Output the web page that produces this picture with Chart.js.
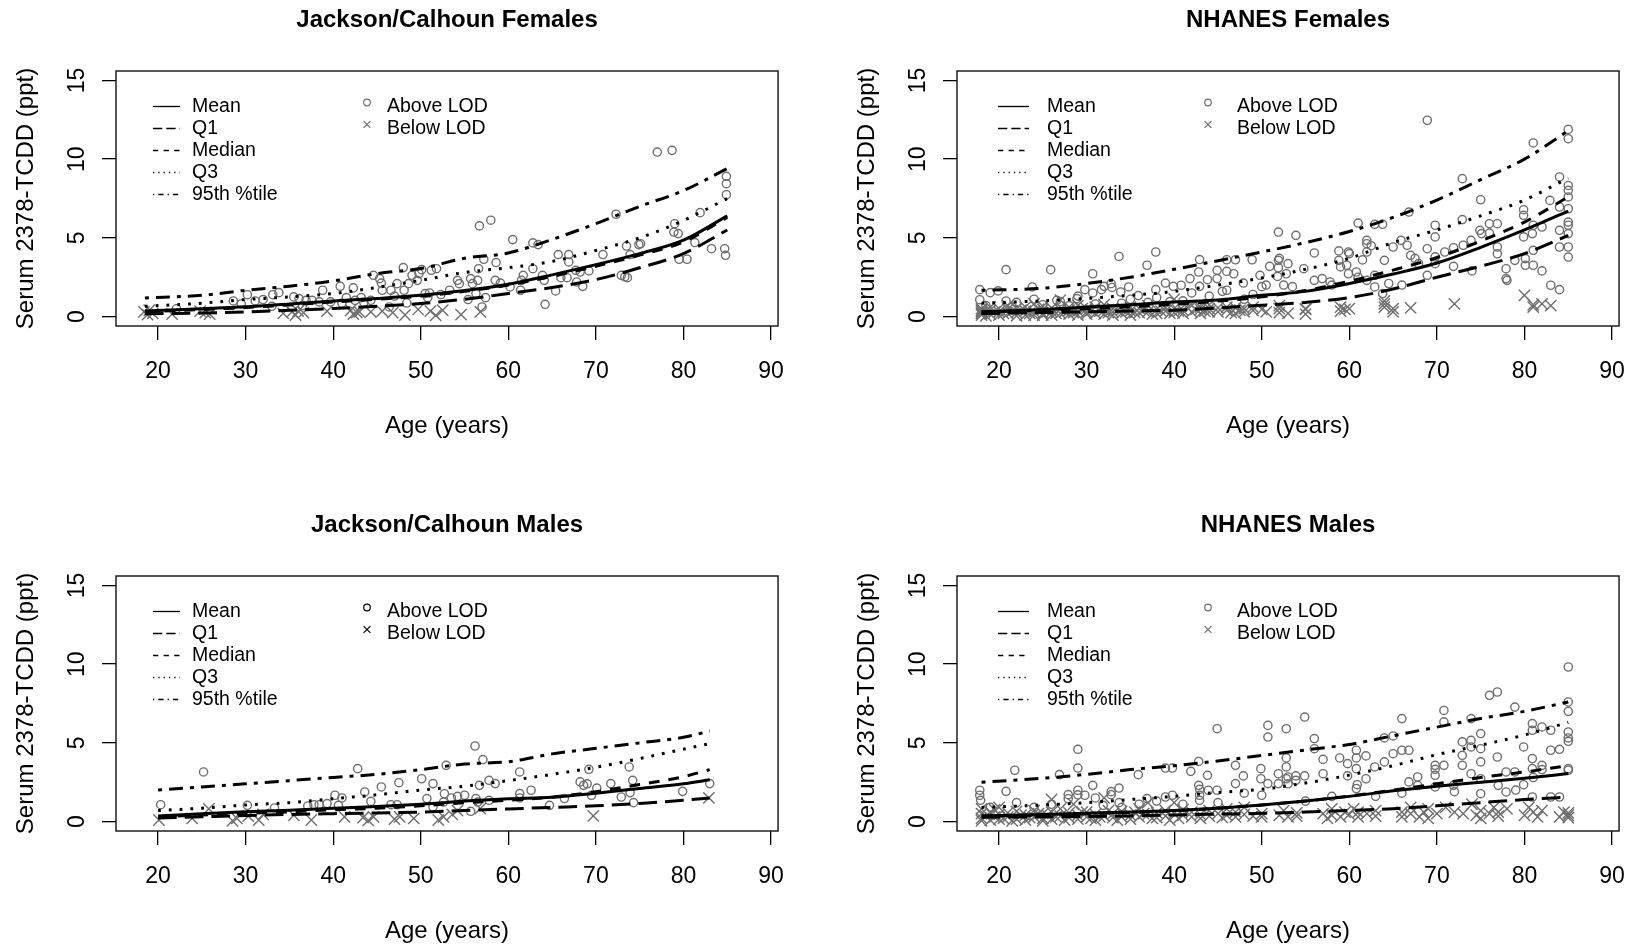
<!DOCTYPE html>
<html>
<head>
<meta charset="utf-8">
<script src="https://cdn.jsdelivr.net/npm/chart.js@4.4.1/dist/chart.umd.min.js"></script>
<style>
  html, body { margin: 0; padding: 0; background: #fff; width: 1644px; height: 947px; overflow: hidden; }
  .panel { position: absolute; width: 802px; height: 442px; }
</style>
</head>
<body>
<div class="panel" style="left:0;top:0"><canvas id="jcf" width="802" height="442"></canvas></div>
<div class="panel" style="left:841px;top:0"><canvas id="nhf" width="802" height="442"></canvas></div>
<div class="panel" style="left:0;top:505px"><canvas id="jcm" width="802" height="442"></canvas></div>
<div class="panel" style="left:841px;top:505px"><canvas id="nhm" width="802" height="442"></canvas></div>
<script>
// Shared axis ticks and labels
const xTicks = [20, 30, 40, 50, 60, 70, 80, 90];
const yTicks = [0, 5, 10, 15];
const curveNames = ['Mean', 'Q1', 'Median', 'Q3', '95th %tile'];
const markerNames = ['Above LOD', 'Below LOD'];

// Jackson/Calhoun Females
const jcfAges   = [18.5, 25, 30, 35, 40, 45, 50, 55, 60, 65, 70, 75, 80, 85];
const jcfMean   = [0.36, 0.5, 0.62, 0.8, 0.99, 1.15, 1.35, 1.65, 2.05, 2.65, 3.3, 4.0, 4.85, 6.4];
const jcfQ1     = [0.18, 0.22, 0.29, 0.4, 0.51, 0.65, 0.83, 1.1, 1.46, 1.85, 2.35, 3.1, 4.0, 5.5];
const jcfMedian = [0.3, 0.45, 0.57, 0.74, 0.93, 1.1, 1.3, 1.6, 2.0, 2.55, 3.2, 3.9, 4.75, 6.3];
const jcfQ3     = [0.65, 0.85, 1.08, 1.25, 1.46, 1.85, 2.3, 2.8, 3.1, 3.5, 4.2, 5.0, 6.1, 7.5];
const jcfP95    = [1.18, 1.35, 1.67, 1.93, 2.26, 2.73, 3.05, 3.7, 4.04, 4.9, 5.9, 7.0, 8.0, 9.4];
const jcfAbove = [
  [22.1,0.5],[28.6,0.99],[29.5,0.8],[30.2,1.39],[31.1,0.99],[32.0,1.08],[33.0,0.65],[33.1,1.39],[33.8,1.52],
  [35.5,1.25],[36.1,1.14],[36.5,0.7],[36.9,1.03],[37.6,1.03],[38.4,0.93],[38.8,1.67],[39.7,0.93],[40.8,1.92],
  [41.0,0.85],[41.5,1.2],[42.3,1.82],[42.5,1.03],[43.2,1.2],[43.5,0.9],[44.3,1.03],[44.6,2.62],[45.3,2.41],
  [45.5,2.13],[45.6,1.67],[46.4,0.61],[46.6,1.67],[47.0,1.3],[47.3,2.09],[48.0,3.11],[48.1,1.67],[48.4,0.86],
  [48.6,2.09],[49.0,2.62],[49.6,2.3],[49.8,2.73],[50.1,2.98],[50.5,1.46],[50.8,1.2],[51.0,1.5],[51.2,2.94],
  [51.8,3.04],[52.3,1.4],[53.3,1.67],[54.2,2.3],[54.4,2.09],[55.7,2.41],[55.9,2.09],[56.5,2.3],[56.3,1.46],
  [55.4,1.08],[57.4,1.2],[57.0,0.61],[58.5,2.3],[59.1,2.13],[56.7,5.76],[58.0,6.12],[57.2,3.64],[58.6,3.43],
  [56.6,3.04],[60.5,4.89],[62.8,4.68],[63.4,4.57],[61.5,2.3],[61.7,2.62],[61.4,1.67],[60.2,1.88],[62.8,3.04],
  [63.9,2.62],[64.1,2.3],[64.2,0.78],[65.4,1.63],[65.7,3.94],[66.9,3.94],[66.9,3.47],[66.0,2.47],[66.7,2.47],
  [67.7,2.94],[68.2,2.83],[69.2,2.9],[67.8,2.2],[68.5,1.92],[70.8,3.94],[72.3,6.5],[72.9,2.62],[73.3,2.52],
  [73.6,2.47],[73.5,4.48],[73.9,3.94],[74.9,4.57],[75.1,4.63],[77.0,10.45],[78.7,10.56],[79.0,5.9],[78.9,5.37],
  [79.4,5.27],[79.5,3.64],[80.4,3.64],[81.3,4.7],[81.9,6.6],[83.2,4.31],[84.7,4.31],[84.8,3.89],[84.9,8.91],
  [84.9,8.44],[84.9,7.74]
];
const jcfBelow = [
  [18.4,0.3],[18.8,0.12],[19.0,0.4],[19.4,0.2],[21.6,0.15],[24.8,0.35],[25.4,0.25],[25.9,0.15],[34.3,0.2],
  [35.3,0.3],[35.7,0.1],[36.0,0.35],[36.6,0.25],[39.3,0.35],[42.0,0.4],[42.3,0.15],[42.7,0.25],[43.0,0.3],
  [44.3,0.3],[45.6,0.35],[46.8,0.25],[48.2,0.1],[49.7,0.45],[51.1,0.35],[51.7,0.08],[52.5,0.4],[54.6,0.12],
  [56.8,0.3]
];

// NHANES Females
const nhfAges   = [18, 25, 30, 35, 40, 45, 50, 55, 60, 65, 70, 75, 80, 85];
const nhfMean   = [0.28, 0.45, 0.6, 0.75, 0.93, 1.05, 1.35, 1.6, 2.1, 2.7, 3.4, 4.4, 5.5, 6.7];
const nhfQ1     = [0.2, 0.25, 0.3, 0.35, 0.4, 0.55, 0.72, 0.9, 1.2, 1.75, 2.5, 3.2, 4.0, 5.15];
const nhfMedian = [0.3, 0.4, 0.5, 0.62, 0.78, 0.98, 1.25, 1.65, 2.25, 2.95, 3.75, 4.8, 6.0, 7.6];
const nhfQ3     = [0.85, 1.0, 1.15, 1.35, 1.6, 2.0, 2.45, 3.0, 3.7, 4.7, 5.5, 6.4, 7.4, 8.8];
const nhfP95    = [1.67, 1.8, 2.1, 2.5, 3.0, 3.55, 4.1, 4.7, 5.4, 6.3, 7.4, 8.7, 10.0, 11.8];
const nhfAbove = [
  [17.8,1.71],[17.8,1.07],[18.5,0.7],[19.0,1.52],[19.9,1.63],[20.8,2.98],[20.8,0.99],[21.5,0.6],[22.0,0.9],
  [23.8,1.88],[24.0,1.1],[25.0,0.75],[25.9,2.98],[26.6,1.03],[27.0,0.95],[28.0,0.7],[28.9,1.14],[29.0,1.3],
  [29.8,1.71],[30.7,2.72],[30.7,1.5],[31.0,0.8],[31.7,1.71],[32.0,1.92],[32.8,2.09],[32.9,1.85],[33.7,3.82],
  [33.9,1.56],[34.0,0.85],[34.8,1.88],[35.0,1.1],[35.9,1.33],[36.9,3.26],[37.0,0.9],[37.9,4.1],[37.9,1.71],
  [38.0,1.2],[39.0,2.13],[39.5,0.95],[39.9,1.92],[40.8,1.99],[41.0,1.0],[41.8,2.41],[42.0,1.5],[42.9,3.62],
  [42.8,2.83],[42.9,1.92],[43.8,2.34],[44.0,1.3],[44.9,2.41],[44.9,2.94],[45.5,1.6],[46.0,3.61],[46.0,1.67],
  [46.0,2.87],[47.0,3.61],[46.8,2.72],[47.9,2.13],[48.0,1.1],[48.9,3.61],[49.0,1.4],[49.8,2.62],[50.0,1.9],
  [50.5,2.0],[50.9,3.19],[51.9,5.37],[51.9,3.57],[51.9,3.1],[51.8,2.55],[52.0,3.7],[52.5,2.0],[52.8,2.72],
  [53.5,1.9],[53.0,3.36],[54.8,3.04],[56.0,2.3],[56.9,2.41],[57.8,2.2],[58.0,2.0],[58.8,3.57],[59.7,3.26],
  [59.9,2.72],[60.0,4.0],[60.8,2.83],[61.0,2.5],[61.5,3.6],[62.0,2.3],[62.5,4.5],[62.9,2.62],[62.9,1.88],
  [63.8,1.46],[53.9,5.16],[56.0,4.04],[58.8,4.17],[59.9,4.1],[59.0,3.15],[61.0,5.94],[62.9,5.86],[63.8,5.86],
  [62.0,4.84],[62.0,4.63],[62.0,4.1],[64.5,2.1],[65.0,4.42],[64.0,3.57],[65.9,4.84],[66.0,2.0],[66.8,6.64],
  [66.6,4.53],[67.0,3.89],[67.5,3.7],[67.9,3.36],[68.9,4.31],[68.9,2.62],[68.9,12.47],[69.8,5.8],[69.8,5.06],
  [69.8,3.79],[69.8,3.36],[70.9,4.1],[71.9,4.37],[71.9,3.19],[72.9,8.76],[72.9,6.16],[73.0,4.53],[73.9,4.84],
  [74.0,2.9],[75.0,7.42],[74.9,5.48],[75.1,5.27],[76.0,5.9],[76.0,5.3],[76.9,5.9],[76.9,4.42],[76.9,3.99],
  [77.9,3.04],[77.9,2.41],[78.0,2.3],[78.9,3.57],[79.9,6.79],[79.9,6.43],[79.9,5.06],[80.1,3.68],[80.1,3.26],
  [81.0,11.03],[81.0,5.8],[80.9,5.27],[81.0,4.21],[81.0,3.26],[82.0,5.69],[82.0,2.9],[82.9,7.38],[83.0,1.99],
  [84.0,8.87],[84.0,6.96],[84.0,5.48],[84.0,4.42],[84.0,1.71],[85.0,11.89],[85.0,11.3],[85.0,8.33],[85.0,8.02],
  [85.0,7.6],[85.0,6.85],[85.0,6.0],[85.0,5.8],[85.0,5.27],[85.0,4.42],[85.0,3.78]
];
const nhfBelow = [
  [18,0.1],[18,0.3],[18,0.5],[18,0.2],[18,0.4],[18.5,0.05],[19,0.4],[19,0.15],[19,0.6],[19.5,0.3],[20,0.3],
  [20,0.5],[20,0.1],[20.5,0.2],[21,0.2],[21,0.45],[21,0.7],[21.5,0.35],[22,0.25],[22,0.5],[22,0.05],[22.5,0.4],
  [23,0.1],[23,0.35],[23,0.6],[23.5,0.2],[24,0.3],[24,0.8],[24,0.1],[24.5,0.45],[25,0.2],[25,0.45],[25,0.1],
  [25,0.65],[25.5,0.3],[26,0.3],[26,0.55],[26,0.1],[26.5,0.2],[27,0.2],[27,1.05],[27,0.45],[27.5,0.3],[28,0.4],
  [28,0.15],[28,0.6],[28.5,0.25],[29,0.35],[29,0.7],[29,0.1],[29.5,0.5],[30,0.3],[30,0.5],[30,0.15],[30.5,0.4],
  [31,0.2],[31,0.6],[31.5,0.35],[32,0.4],[32,0.15],[32,0.75],[32.5,0.25],[33,0.3],[33,0.5],[33,0.1],[33.5,0.4],
  [34,0.2],[34,0.45],[34.5,0.3],[35,0.35],[35,0.6],[35,0.1],[35.5,0.25],[36,0.25],[36,0.5],[36.5,0.4],[37,0.3],
  [37,0.7],[37.5,0.15],[38,0.2],[38,0.45],[38.5,0.35],[39,0.35],[39,0.55],[39.5,0.2],[40,0.25],[40,0.5],[40,1.1],
  [40.5,0.35],[41,0.4],[41,0.2],[41.5,0.55],[42,0.7],[42,0.3],[42.5,0.45],[43,0.6],[43,0.45],[43,0.2],[43.5,0.35],
  [44,0.75],[44,0.5],[44,0.3],[45,0.3],[45,0.55],[46,0.6],[46,0.4],[46.5,0.25],[47,0.2],[47,0.55],[47.5,0.4],
  [48,0.5],[48,0.3],[49,0.4],[49,0.6],[50,0.45],[50.5,0.3],[52,0.7],[52,0.25],[52,0.5],[53,0.2],[55,0.45],
  [55,0.5],[55,0.15],[59,0.35],[59,0.6],[59.5,0.45],[60,0.5],[64,1.0],[64,0.6],[64,0.8],[65,0.5],[65,0.3],
  [67,0.55],[72,0.8],[80,1.35],[81,0.6],[81,0.75],[82,0.8],[83,0.7]
];

// Jackson/Calhoun Males
const jcmAges   = [20, 25, 30, 35, 40, 45, 50, 55, 60, 65, 70, 75, 80, 83];
const jcmMean   = [0.35, 0.5, 0.62, 0.72, 0.85, 0.95, 1.1, 1.3, 1.45, 1.55, 1.8, 2.1, 2.4, 2.65];
const jcmQ1     = [0.22, 0.3, 0.38, 0.45, 0.5, 0.55, 0.6, 0.7, 0.8, 0.9, 1.0, 1.15, 1.35, 1.5];
const jcmMedian = [0.3, 0.42, 0.52, 0.62, 0.75, 0.85, 1.0, 1.2, 1.35, 1.55, 1.9, 2.35, 2.85, 3.3];
const jcmQ3     = [0.7, 0.85, 1.05, 1.2, 1.45, 1.7, 2.0, 2.25, 2.6, 3.0, 3.45, 4.0, 4.6, 4.95];
const jcmP95    = [2.0, 2.2, 2.4, 2.6, 2.8, 3.0, 3.3, 3.65, 3.8, 4.3, 4.65, 5.0, 5.35, 5.75];
const jcmAbove = [
  [20.3,1.07],[25.2,3.15],[30.2,1.03],[33.3,0.86],[37.1,0.99],[37.8,1.07],[38.4,1.07],[39.3,1.14],[40.2,1.67],
  [41.0,1.5],[40.6,1.03],[42.8,3.36],[43.6,1.88],[44.3,1.28],[45.5,2.2],[47.5,2.47],[47.3,1.07],[46.6,1.07],
  [50.1,2.72],[51.4,2.41],[50.7,1.46],[51.4,0.93],[52.9,3.57],[52.7,1.77],[52.6,1.24],[56.2,4.8],[57.1,3.94],
  [56.7,2.3],[57.8,2.62],[58.5,2.41],[55.0,1.67],[53.5,1.5],[54.2,1.6],[56.3,1.46],[56.5,1.24],[57.8,1.35],
  [55.7,0.65],[61.3,3.15],[61.3,1.78],[61.3,1.5],[62.6,1.99],[64.7,1.03],[66.4,1.46],[68.2,2.52],[68.6,2.3],
  [69.2,3.32],[69.0,2.4],[69.5,1.67],[70.1,2.13],[71.7,2.41],[72.9,1.56],[73.8,3.47],[73.9,1.84],[74.2,2.62],
  [74.3,1.2],[79.9,1.92],[83.0,2.41]
];
const jcmBelow = [
  [20.1,0.1],[23.9,0.2],[25.8,0.8],[28.5,0.05],[29.0,0.2],[30.3,0.35],[31.5,0.1],[32.0,0.45],[35.5,0.4],
  [37.5,0.1],[41.3,0.3],[43.4,0.25],[44.0,0.08],[44.6,0.3],[47.0,0.15],[47.6,0.3],[49.2,0.2],[52.0,0.1],
  [52.6,0.3],[53.6,0.45],[54.2,0.7],[56.8,0.82],[69.7,0.36],[82.9,1.5]
];

// NHANES Males
const nhmAges   = [18, 25, 30, 35, 40, 45, 50, 55, 60, 65, 70, 75, 80, 85];
const nhmMean   = [0.36, 0.45, 0.52, 0.6, 0.7, 0.85, 1.05, 1.3, 1.6, 1.95, 2.25, 2.5, 2.75, 3.05];
const nhmQ1     = [0.28, 0.3, 0.32, 0.36, 0.42, 0.47, 0.52, 0.6, 0.7, 0.82, 1.0, 1.2, 1.4, 1.55];
const nhmMedian = [0.35, 0.42, 0.5, 0.58, 0.68, 0.85, 1.05, 1.3, 1.62, 2.0, 2.4, 2.8, 3.15, 3.55];
const nhmQ3     = [0.9, 1.05, 1.2, 1.4, 1.6, 1.85, 2.05, 2.45, 2.95, 3.55, 4.25, 4.85, 5.5, 6.3];
const nhmP95    = [2.5, 2.75, 3.0, 3.3, 3.55, 3.85, 4.2, 4.55, 4.9, 5.45, 6.0, 6.55, 7.0, 7.6];
const nhmAbove = [
  [17.8,1.99],[17.8,1.67],[17.9,1.35],[19.0,0.9],[20.8,1.92],[21.8,3.26],[22.0,1.2],[24.0,0.9],[26.0,1.1],
  [26.9,2.98],[29.0,4.59],[29.0,3.4],[29.0,1.99],[29.0,1.7],[27.9,1.71],[27.9,1.45],[29.8,1.67],[30.7,2.3],
  [31.0,1.5],[31.9,1.03],[32.8,1.71],[32.8,1.9],[33.7,2.13],[33.7,1.2],[34.0,0.9],[35.9,2.98],[36.0,1.1],
  [36.9,1.46],[38.0,1.3],[39.0,3.4],[39.8,3.4],[39.0,1.56],[39.8,1.67],[41.0,1.1],[41.9,3.19],[42.8,3.82],
  [42.8,2.3],[42.9,2.05],[42.9,1.67],[42.9,1.35],[43.8,2.94],[44.9,5.9],[43.9,1.99],[44.9,1.99],[45.0,1.2],
  [47.0,3.57],[47.0,2.41],[47.9,2.9],[48.0,1.8],[49.9,3.36],[49.9,2.72],[50.0,1.67],[50.7,6.11],[50.7,5.37],
  [50.7,2.41],[51.9,3.04],[51.9,2.41],[52.8,3.47],[52.8,2.72],[52.8,5.9],[52.8,4.04],[53.0,2.83],[53.0,2.4],
  [53.9,2.9],[53.9,2.62],[54.9,6.64],[54.9,2.9],[55.0,1.3],[56.0,5.27],[56.0,4.63],[57.0,3.95],[57.0,3.04],
  [58.0,1.6],[58.9,4.04],[59.8,3.68],[59.8,2.9],[60.8,4.53],[60.8,4.04],[60.8,3.36],[60.9,2.34],[60.8,2.1],
  [61.9,4.17],[61.9,2.72],[62.9,3.47],[63.0,1.6],[64.0,3.79],[64.0,5.31],[65.0,5.44],[65.0,4.31],[66.0,6.54],
  [66.0,4.53],[66.0,1.8],[66.8,4.53],[66.8,2.52],[67.8,2.83],[67.8,2.3],[69.8,3.57],[69.8,3.32],[69.8,2.94],
  [69.8,2.2],[70.8,7.06],[70.8,6.33],[70.8,3.57],[71.9,2.3],[72.0,1.9],[72.9,5.06],[72.9,4.21],[72.9,3.57],
  [73.9,6.54],[73.9,5.16],[73.9,4.74],[73.9,3.04],[75.0,5.59],[75.0,4.63],[75.0,3.79],[75.0,2.72],[75.0,1.77],
  [76.0,8.02],[76.9,8.23],[76.9,4.1],[77.0,2.3],[77.9,3.15],[77.9,1.88],[78.9,7.27],[78.9,3.15],[79.0,2.0],
  [79.9,4.74],[79.9,2.34],[80.9,6.22],[80.9,5.8],[80.9,4.0],[80.9,3.36],[80.9,1.56],[81.0,2.8],[82.0,6.01],
  [82.0,3.57],[82.0,3.3],[83.0,5.8],[83.0,4.53],[83.0,1.56],[84.0,4.59],[84.0,1.56],[85.0,9.82],[85.0,7.6],
  [85.0,7.0],[85.0,5.69],[85.0,5.31],[85.0,5.1],[85.0,3.36],[85.0,3.26]
];
const nhmBelow = [
  [18,0.2],[18,0.5],[18,0.8],[18,0.05],[18.5,0.35],[19,0.1],[19,0.6],[19.5,0.3],[19.5,0.75],[20,0.45],[20,0.9],
  [20,0.15],[20.5,0.2],[21,0.55],[21,0.3],[21.5,0.05],[22,0.15],[22,0.65],[22.5,0.4],[23,0.4],[23,0.1],
  [23.5,0.25],[24,0.3],[24,0.7],[24.5,0.5],[25,0.2],[25,0.5],[25,0.05],[25.5,0.4],[26,0.15],[26,0.6],[26,1.4],
  [26.5,0.3],[27,0.35],[27,0.8],[27.5,0.1],[28,0.25],[28,0.55],[28.5,1.1],[29,0.4],[29,0.15],[29.5,0.6],[30,0.3],
  [30,0.6],[30.5,0.2],[31,0.45],[31,0.1],[31.5,0.3],[32,0.35],[32,1.5],[32.5,0.7],[33,0.25],[33,0.5],[33.5,0.1],
  [34,0.3],[34,0.65],[35,0.4],[35,0.15],[35.5,0.6],[36,0.3],[36,0.8],[36.5,0.5],[37,0.45],[37,1.2],[37.5,0.2],
  [38,0.25],[38,0.55],[39,0.35],[39,0.7],[39.5,0.1],[40,0.5],[40,1.2],[40.5,0.2],[41,0.4],[41,0.75],[42,0.3],
  [42,0.6],[43,0.45],[43,0.2],[44,0.35],[44,0.7],[45,0.5],[45.5,0.25],[46,0.4],[46,0.8],[47,0.3],[47,0.6],
  [48,0.45],[48,0.9],[49,0.35],[50,0.5],[50,0.3],[52,0.4],[52.5,0.7],[53,0.3],[54,0.55],[54,0.35],[57,0.5],
  [57.5,0.2],[58,0.8],[58,0.4],[59,0.3],[59.5,0.6],[60,0.45],[60.5,0.8],[61,0.3],[61,0.6],[62,0.5],[63,0.35],
  [63,0.7],[66,0.6],[66,0.3],[67,0.5],[67,0.9],[68,0.3],[68.5,0.6],[69,0.2],[69,0.8],[70,0.5],[71,0.9],[72,0.6],
  [73,0.5],[74,1.1],[74.5,0.4],[75,0.2],[75,0.7],[76,0.5],[76.5,0.9],[77,0.6],[77,0.35],[78,0.8],[80,0.4],
  [80.5,0.9],[81,0.6],[81.5,0.3],[82,0.7],[84,0.3],[84.5,0.6],[85,0.4],[85,0.55],[85,0.25]
];

// Styling
const FONT = "'Liberation Sans', Arial, Helvetica, sans-serif";
const INK = '#000000';
const GRAY = '#6e6e6e';
// R line types: solid, longdash, dashed, dotted, dotdash
const curveDash = [[], [18.7, 8], [10.7, 9], [2.8, 8], [4, 7, 14, 7]];
const legendDash = [[], [9.3, 4], [5.3, 5.3], [1.3, 4], [1.3, 4, 5.3, 4]];

Chart.defaults.font.family = FONT;
Chart.defaults.color = INK;

// Frame around the plotting region, like R's box()
const framePlugin = {
  id: 'frame',
  afterDatasetsDraw(chart) {
    const { ctx, chartArea: a } = chart;
    ctx.save();
    ctx.strokeStyle = '#111';
    ctx.lineWidth = 1.4;
    ctx.setLineDash([]);
    ctx.strokeRect(a.left, a.top, a.right - a.left, a.bottom - a.top);
    ctx.restore();
  }
};

// Two-column legend drawn inside the plotting region
const legendPlugin = {
  id: 'rLegend',
  afterDatasetsDraw(chart, args, o) {
    const ctx = chart.ctx;
    ctx.save();
    ctx.font = '19.5px ' + FONT;
    ctx.textBaseline = 'middle';
    ctx.textAlign = 'left';
    curveNames.forEach((name, i) => {
      const y = o.top + i * o.step;
      ctx.beginPath();
      ctx.setLineDash(legendDash[i]);
      ctx.lineWidth = 1.3;
      ctx.strokeStyle = INK;
      ctx.moveTo(o.lineX0, y);
      ctx.lineTo(o.lineX1, y);
      ctx.stroke();
      ctx.setLineDash([]);
      ctx.fillStyle = INK;
      ctx.fillText(name, o.textX, y);
    });
    markerNames.forEach((name, i) => {
      const y = o.top + i * o.step;
      ctx.strokeStyle = o.markerColor;
      ctx.fillStyle = 'rgba(0,0,0,0)';
      ctx.lineWidth = 1.2;
      Chart.helpers.drawPoint(ctx, {
        pointStyle: i === 0 ? 'circle' : 'crossRot',
        radius: i === 0 ? 3.3 : 4.8,
        rotation: 0,
        borderWidth: 1.2
      }, o.markerX, y - 4);
      ctx.fillStyle = INK;
      ctx.fillText(name, o.markerTextX, y);
    });
    ctx.restore();
  }
};

const legendJC = { top: 106.5, step: 22, lineX0: 153, lineX1: 180, textX: 192, markerX: 367, markerTextX: 387 };
const legendNH = { top: 106.5, step: 22, lineX0: 157, lineX1: 188, textX: 206, markerX: 367, markerTextX: 396 };

function curveSet(label, ages, values, dash) {
  return {
    type: 'scatter',
    label,
    data: ages.map((x, i) => ({ x, y: values[i] })),
    showLine: true,
    borderColor: INK,
    borderWidth: 3,
    borderDash: dash,
    cubicInterpolationMode: 'monotone',
    pointRadius: 0,
    fill: false
  };
}

function markerSet(label, pairs, style, radius) {
  return {
    type: 'scatter',
    label,
    data: pairs.map(([x, y]) => ({ x, y })),
    pointStyle: style,
    pointRadius: radius,
    pointBorderColor: GRAY,
    pointBackgroundColor: 'rgba(0,0,0,0)',
    pointBorderWidth: 1.4,
    showLine: false
  };
}

function makePanel(id, title, ages, curves, above, below, legendPos, markerColor) {
  const datasets = curves.map((vals, i) => curveSet(curveNames[i], ages, vals, curveDash[i]));
  datasets.push(markerSet(markerNames[0], above, 'circle', 4.1));
  datasets.push(markerSet(markerNames[1], below, 'crossRot', 8));

  new Chart(document.getElementById(id), {
    type: 'scatter',
    data: { datasets },
    plugins: [framePlugin, legendPlugin],
    options: {
      responsive: false,
      animation: false,
      devicePixelRatio: 1,
      events: [],
      layout: { padding: { top: 0, left: 0, right: 11, bottom: 0 } },
      plugins: {
        legend: { display: false },
        tooltip: { enabled: false },
        title: {
          display: true,
          text: title,
          fullSize: false,
          color: INK,
          font: { size: 24, weight: 'bold', family: FONT },
          padding: { top: 5.6, bottom: 36.6 }
        },
        rLegend: Object.assign({ markerColor }, legendPos)
      },
      scales: {
        x: {
          type: 'linear',
          min: 15.2,
          max: 90.8,
          afterBuildTicks: s => { s.ticks = xTicks.map(v => ({ value: v })); },
          afterFit: s => { s.height = 116; },
          border: { display: false },
          grid: { drawOnChartArea: false, drawTicks: true, tickLength: 14, color: INK, lineWidth: 1.3 },
          ticks: { color: INK, font: { size: 23 }, padding: 17.9, maxRotation: 0, autoSkip: false },
          title: { display: true, text: 'Age (years)', color: INK, font: { size: 24 }, padding: { top: 0, bottom: 0.9 } }
        },
        y: {
          type: 'linear',
          min: -0.6,
          max: 15.6,
          afterBuildTicks: s => { s.ticks = yTicks.map(v => ({ value: v })); },
          afterFit: s => { s.width = 116; },
          border: { display: false },
          grid: { drawOnChartArea: false, drawTicks: true, tickLength: 14, color: INK, lineWidth: 1.3 },
          ticks: { color: INK, font: { size: 23 }, padding: 11.2, minRotation: 90, maxRotation: 90, crossAlign: 'center' },
          title: { display: true, text: 'Serum 2378-TCDD (ppt)', color: INK, font: { size: 24 }, padding: { top: 11.6, bottom: 0 } }
        }
      }
    }
  });
}

makePanel('jcf', 'Jackson/Calhoun Females', jcfAges,
  [jcfMean, jcfQ1, jcfMedian, jcfQ3, jcfP95], jcfAbove, jcfBelow, legendJC, GRAY);
makePanel('nhf', 'NHANES Females', nhfAges,
  [nhfMean, nhfQ1, nhfMedian, nhfQ3, nhfP95], nhfAbove, nhfBelow, legendNH, GRAY);
makePanel('jcm', 'Jackson/Calhoun Males', jcmAges,
  [jcmMean, jcmQ1, jcmMedian, jcmQ3, jcmP95], jcmAbove, jcmBelow, legendJC, INK);
makePanel('nhm', 'NHANES Males', nhmAges,
  [nhmMean, nhmQ1, nhmMedian, nhmQ3, nhmP95], nhmAbove, nhmBelow, legendNH, GRAY);
</script>
</body>
</html>
